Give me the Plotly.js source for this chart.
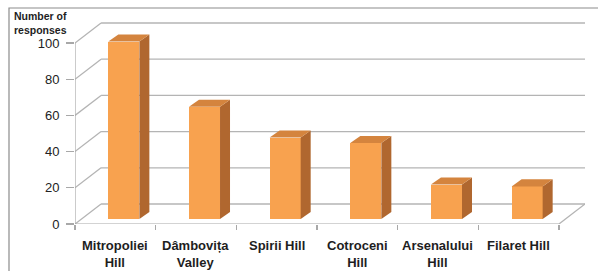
<!DOCTYPE html>
<html><head><meta charset="utf-8">
<script src="https://cdn.plot.ly/plotly-3.0.1.min.js"></script>
<style>html,body{margin:0;padding:0;background:#fff}#c{width:598px;height:271px}</style>
</head><body><div id="c"></div>
<script>
var categories = ["Mitropoliei<br>Hill", "Dâmbovița<br>Valley", "Spirii Hill", "Cotroceni<br>Hill", "Arsenalului<br>Hill", "Filaret Hill"];
var responses = [98, 62, 45, 42, 19, 18];
var yTicks = [0, 20, 40, 60, 80, 100];
var yTitle = "Number of<br>responses";

var W = 598, H = 271, ML = 75, MR = 13, MT = 22, MB = 47;
var pw = W - ML - MR, ph = H - MT - MB;
var wallDX = 0.323, wallDY = 11.05;        // back-wall depth offset (data units)
var xMin = -0.5, xMax = categories.length - 0.5 + wallDX;
var yMax = 111.6;
var barBase = 0.25 * wallDY, barOff = -0.087, barW = 0.385, dDX = 0.124, dDY = 3.9;
var gridCol = "#b4b4b4";

var idx = categories.map(function(_, i){ return i; });
var traces = [];
traces.push({type:"bar", x: idx, y: responses, base: barBase, width: barW, offset: barOff,
  marker:{color:"#F8A24F", line:{width:0}}, hoverinfo:"skip", showlegend:false});
responses.forEach(function(v, i){
  var x0 = i + barOff, x1 = x0 + barW, t = barBase + v;
  traces.push({type:"scatter", mode:"lines", fill:"toself", fillcolor:"#B0672F", line:{width:0},
    x:[x1, x1 + dDX, x1 + dDX, x1, x1], y:[barBase, barBase + dDY, t + dDY, t, barBase],
    hoverinfo:"skip", showlegend:false});
  traces.push({type:"scatter", mode:"lines", fill:"toself", fillcolor:"#D4843E", line:{width:0},
    x:[x0, x0 + dDX, x1 + dDX, x1, x0], y:[t, t + dDY, t + dDY, t, t],
    hoverinfo:"skip", showlegend:false});
});

var shapes = [];
function ln(x0,y0,x1,y1,col,w){ shapes.push({type:"line", layer:"below", xref:"x", yref:"y", x0:x0, y0:y0, x1:x1, y1:y1, line:{color:col||gridCol, width:w||1.3}}); }
yTicks.forEach(function(v){
  ln(xMin, v, xMin + wallDX, v + wallDY);
  ln(xMin + wallDX, v + wallDY, xMax, v + wallDY);
});
ln(xMin, 0, xMin, yTicks[yTicks.length-1], "#a8a8a8", 1.2);
ln(xMin, 0, categories.length - 0.5, 0, "#a8a8a8", 1.2);
ln(categories.length - 0.5, 0, xMax, wallDY);
// outer border (left and top)
var px = function(p){ return (p - ML) / pw; }, py = function(p){ return (H - MB - p) / ph; };
shapes.push({type:"path", layer:"above", xref:"paper", yref:"paper",
  path:"M"+px(9)+","+py(H+2)+" L"+px(9)+","+py(8)+" L"+px(W+2)+","+py(8), line:{color:"#8c8c8c", width:1.2}});

var annotations = categories.map(function(c, i){
  return {xref:"x", yref:"y", x:i, y:0, yanchor:"top", yshift:-12, showarrow:false, text:"<b>"+c+"</b>",
    font:{family:"Liberation Sans, Arial, sans-serif", size:13, color:"#1e1e1e"}, align:"center"};
});
annotations.push({xref:"paper", yref:"paper", x:px(13), y:py(9), xanchor:"left", yanchor:"top", showarrow:false,
  text:"<b>"+yTitle+"</b>", align:"left", borderpad:0, font:{family:"Liberation Sans, Arial, sans-serif", size:10.5, color:"#1e1e1e"}});

var layout = {
  width: W, height: H, margin:{l:ML, r:MR, t:MT, b:MB, pad:0},
  paper_bgcolor:"#fff", plot_bgcolor:"rgba(0,0,0,0)", showlegend:false,
  xaxis:{range:[xMin, xMax], tickmode:"array", tickvals: categories.map(function(_, i){return i - 0.5;}).concat([categories.length - 0.5]),
    showticklabels:false, ticks:"outside", ticklen:5, tickcolor:"#a8a8a8", tickwidth:1.2,
    showgrid:false, zeroline:false, showline:false, fixedrange:true},
  yaxis:{range:[0, yMax], tickmode:"array", tickvals: yTicks, ticktext: yTicks.map(String),
    ticks:"outside", ticklen:8, tickcolor:"#a8a8a8", tickwidth:1.2, ticklabelstandoff:4,
    tickfont:{family:"Liberation Sans, Arial, sans-serif", size:13, color:"#222"},
    showgrid:false, zeroline:false, showline:false, fixedrange:true},
  shapes: shapes, annotations: annotations, bargap:0
};
Plotly.newPlot("c", traces, layout, {staticPlot:true, displayModeBar:false});
</script></body></html>
